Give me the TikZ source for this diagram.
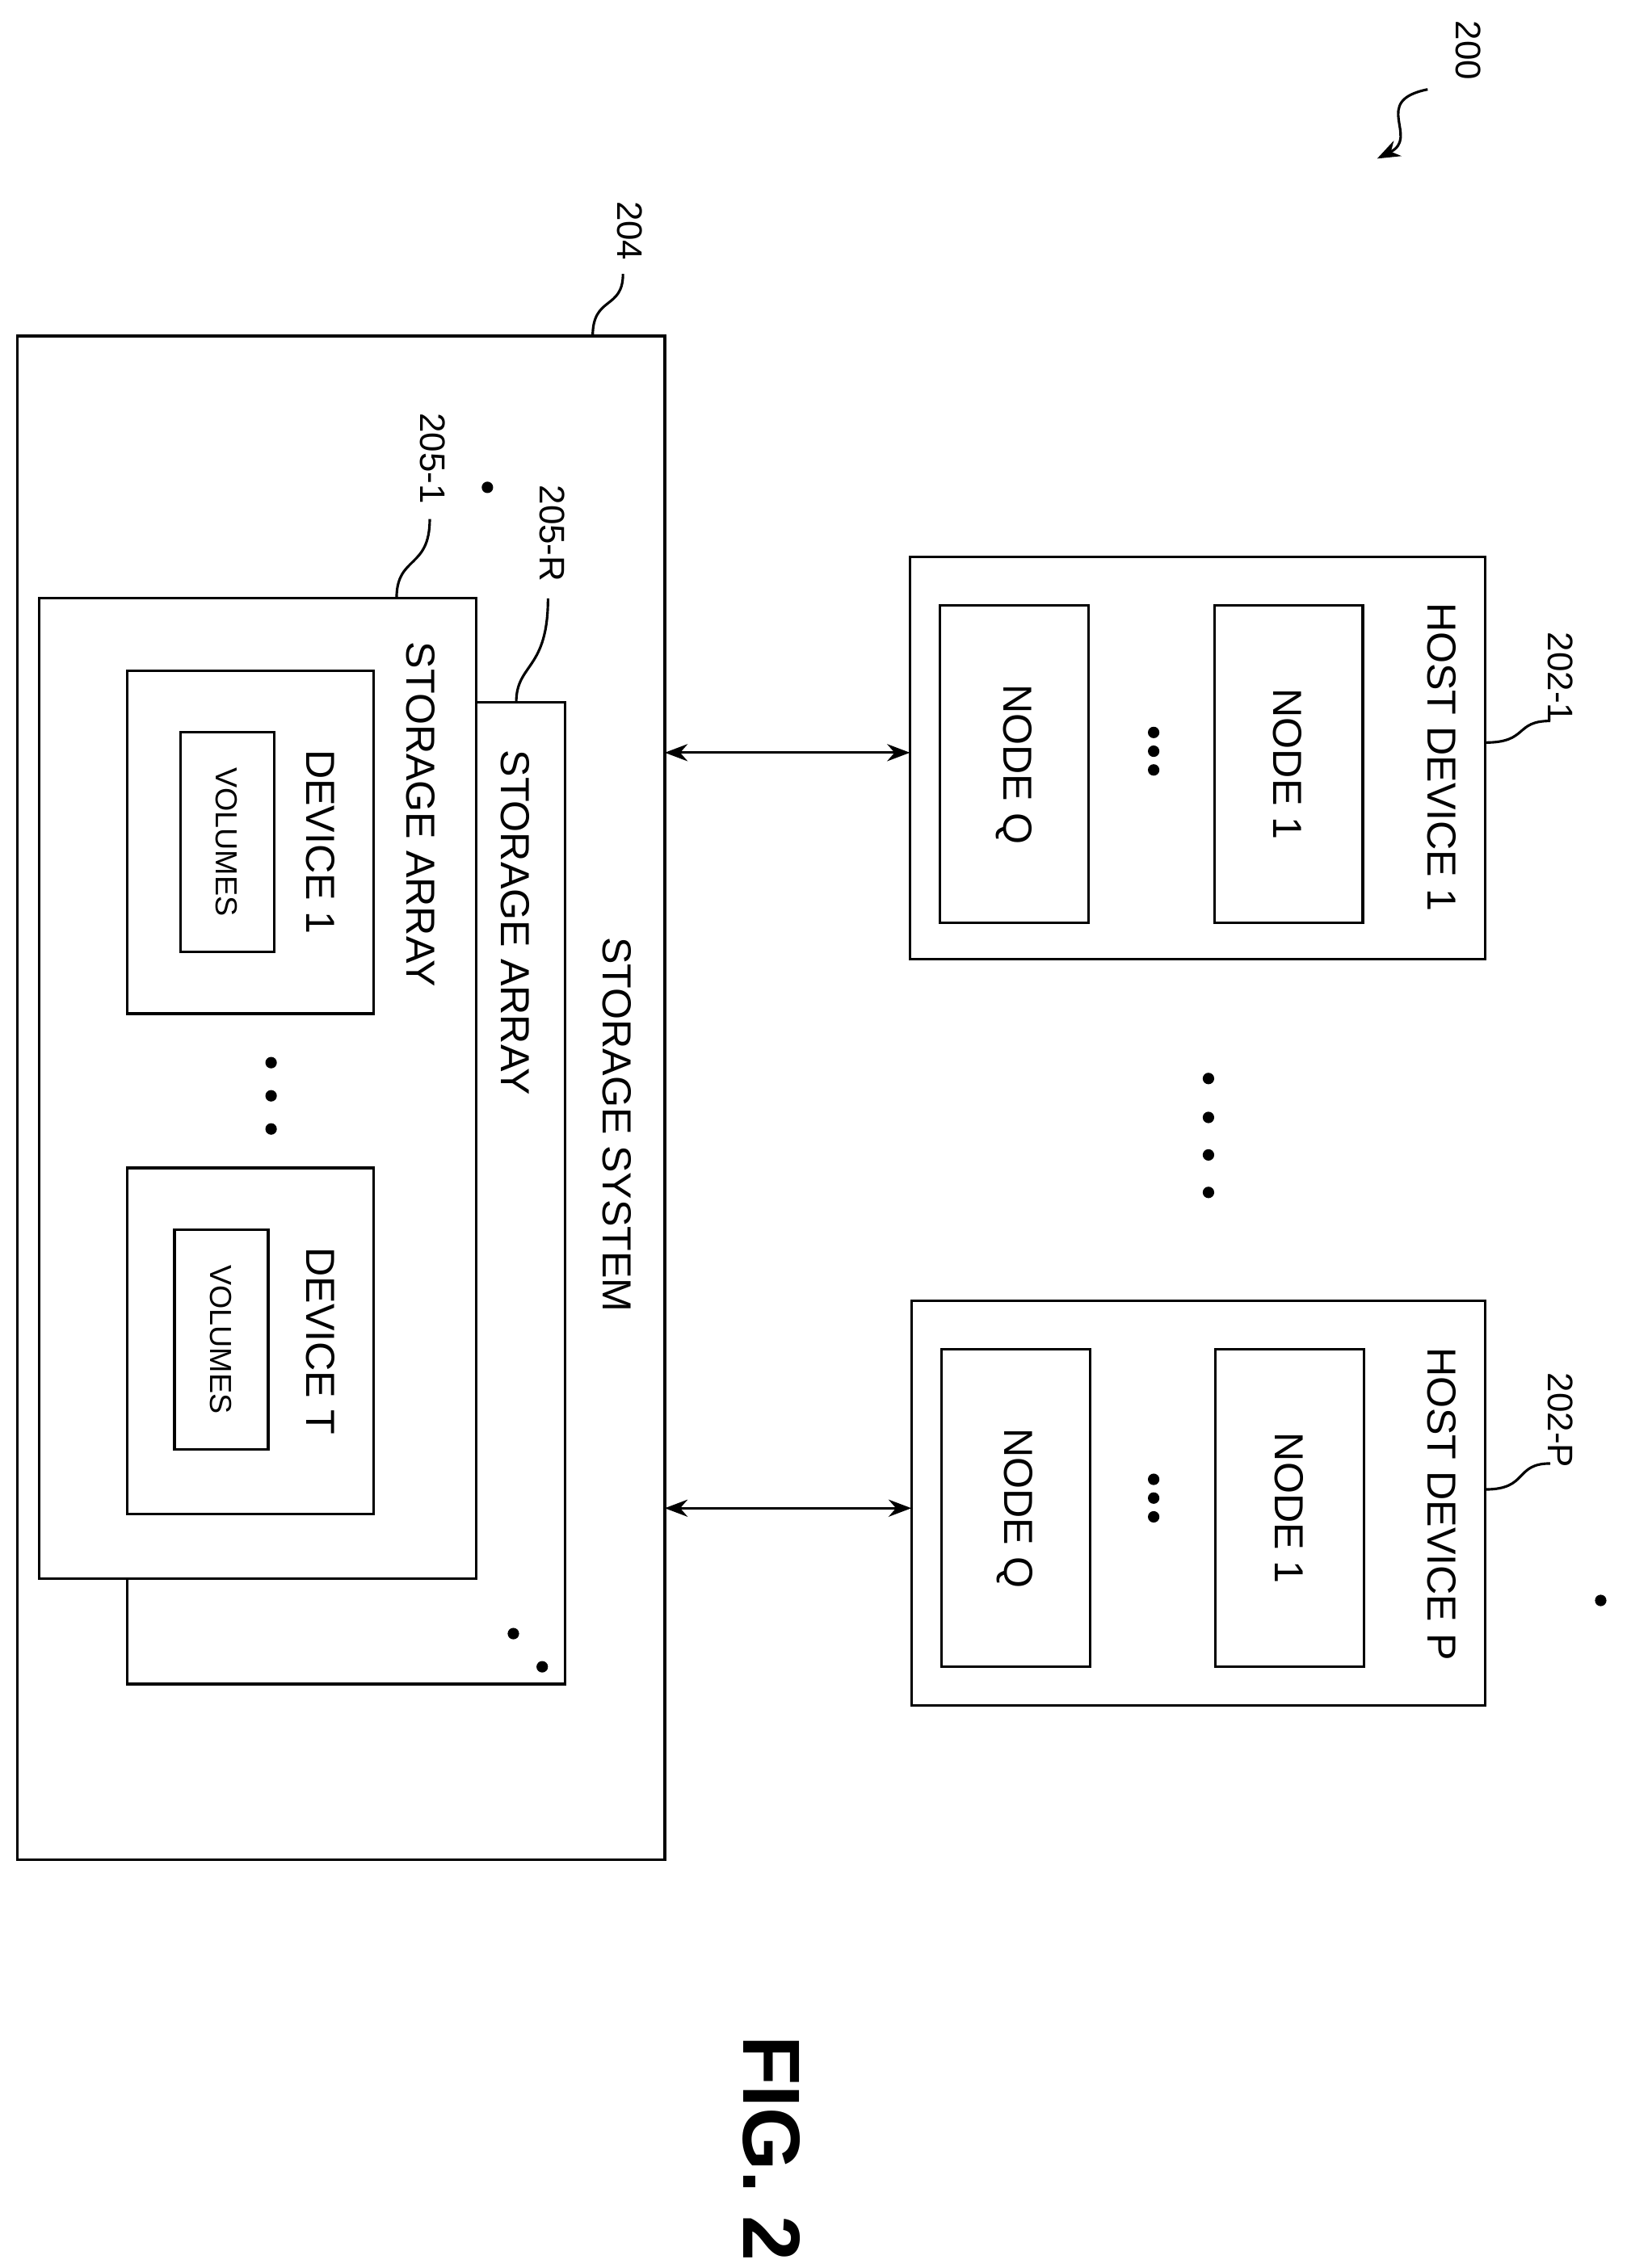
\documentclass[tikz,border=0pt]{standalone}
\usepackage{fontspec}
\setmainfont{Liberation Sans}
\usetikzlibrary{arrows.meta}
\begin{document}
\begin{tikzpicture}[x=0.02cm,y=-0.02cm,line width=1pt,
 box/.style={draw,fill=white},
 txt/.style={rotate=-90,font=\fontsize{16}{18}\selectfont},
 small/.style={rotate=-90,font=\fontsize{12}{14}\selectfont},
 lab/.style={rotate=-90,font=\fontsize{14}{16}\selectfont},
 dot/.style={circle,fill,inner sep=1.6pt},
 arr/.style={{Stealth[length=9pt]}-{Stealth[length=9pt]}}]
\useasboundingbox (0,0) rectangle (1131,1573);
% storage system
\draw[box] (12,233) rectangle (461,1290);
\coordinate (ssE) at (461,522); \coordinate (ssE2) at (461,1046);
\node[txt] (ss) at (428,780) {STORAGE SYSTEM};
\draw[box] (88,487) rectangle (392,1168);
\node[txt] (sar) at (357,640) {STORAGE ARRAY};
\draw[box] (27,415) rectangle (330,1095);
\node[txt] (sa1) at (292,565) {STORAGE ARRAY};
\draw[box] (88,465) rectangle (259,703);
\node[txt] (d1) at (222,584) {DEVICE 1};
\draw[box] (125,508) rectangle (190,660);
\node[small] (v1) at (157,584) {VOLUMES};
\draw[box] (88,810) rectangle (259,1050);
\node[txt] (dT) at (222,930) {DEVICE T};
\draw[box] (121,853) rectangle (186,1005);
\node[small] (vT) at (153,929) {VOLUMES};
\foreach \y in {737,760,783} \node[dot] at (188,\y) {};
\foreach \x/\y in {338,1110} \node[dot] at (\x,\y) {};
\node[dot] at (356,1133) {}; \node[dot] at (376,1156) {};
% hosts
\draw[box] (631,386) rectangle (1030,665);
\node[txt] (h1) at (1000,525) {HOST DEVICE 1};
\draw[box] (652,420) rectangle (755,640); \node[txt] (h1q) at (703,530) {NODE Q};
\draw[box] (842,420) rectangle (945,640); \node[txt] (h11) at (893,530) {NODE 1};
\foreach \y in {508,521,534} \node[dot] at (800,\y) {};
\draw[box] (632,902) rectangle (1030,1183);
\node[txt] (hP) at (1000,1043) {HOST DEVICE P};
\draw[box] (653,936) rectangle (756,1156); \node[txt] (hPq) at (704,1046) {NODE Q};
\draw[box] (843,936) rectangle (946,1156); \node[txt] (hP1) at (894,1046) {NODE 1};
\foreach \y in {1026,1039,1052} \node[dot] at (800,\y) {};
\foreach \y in {748,775,801,827} \node[dot] at (838,\y) {};
\coordinate (h1W) at (631,522); \coordinate (hPW) at (632,1046);
\draw[arr] (ssE) -- (h1W);
\draw[arr] (ssE2) -- (hPW);
% labels
\node[lab] (l200) at (1018,35) {200};
\draw[-{Stealth[length=9pt]}] (990,62) .. controls (950,70) and (985,95) .. (955,110);
\node[lab] (l204) at (437,160) {204};
\draw (411,233) .. controls (411,205) and (432,215) .. (432,190);
\node[lab] (l2051) at (300,318) {205-1};
\draw (275,415) .. controls (275,385) and (298,395) .. (298,360);
\node[lab] (l205R) at (383,370) {205-R};
\draw (358,487) .. controls (358,460) and (380,465) .. (380,415);
\node[lab] (l2021) at (1082,470) {202-1};
\draw (1030,515) .. controls (1060,515) and (1050,500) .. (1075,500);
\node[lab] (l202P) at (1082,985) {202-P};
\draw (1030,1033) .. controls (1060,1033) and (1050,1015) .. (1075,1015);
\node[rotate=-90,font=\fontsize{32}{36}\bfseries] (fig) at (535,1490) {FIG. 2};
\end{tikzpicture}
\end{document}
